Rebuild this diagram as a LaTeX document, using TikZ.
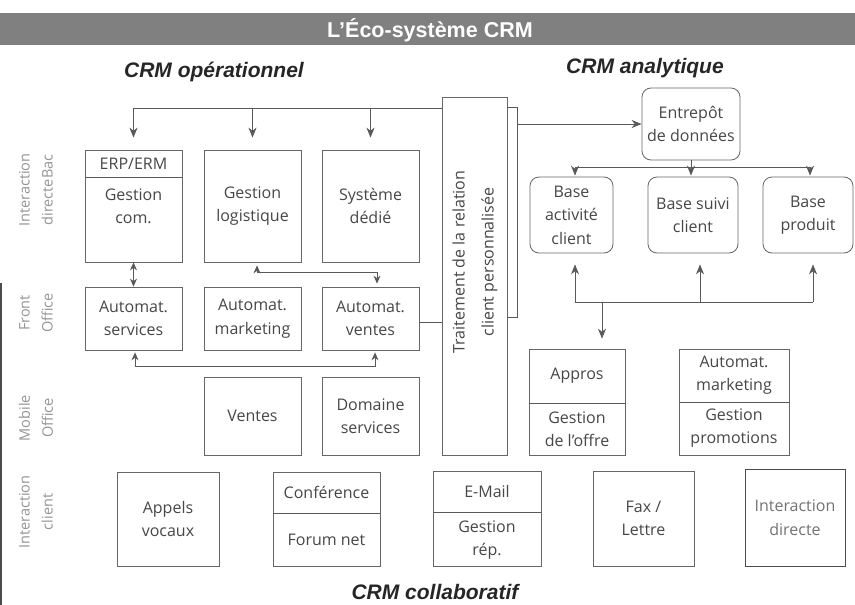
\documentclass[tikz,border=0pt]{standalone}
\usepackage{fontspec}
\setmainfont{Open Sans}
\newfontfamily\titlefont{Liberation Sans}
\usetikzlibrary{arrows.meta}
\begin{document}
\begin{tikzpicture}[x=1pt,y=-1pt,
  box/.style={draw=black!60, line width=0.8pt, inner sep=0pt},
  rbox/.style={box, rounded corners=9pt},
  txt/.style={text=black!72, font=\fontsize{16}{23.5}\selectfont, align=center, inner sep=1pt},
  lbl/.style={text=black!42, font=\fontsize{14.5}{23}\selectfont, align=center, rotate=90},
  ln/.style={draw=black!65, line width=0.8pt},
  arr/.style={ln, -{Stealth[length=10pt,width=8pt]}},
  arrb/.style={ln, {Stealth[length=8pt,width=7pt]}-{Stealth[length=8pt,width=7pt]}},
  sect/.style={font=\titlefont\bfseries\itshape\fontsize{21}{24}\selectfont, text=black!85}
]
\useasboundingbox (0,0) rectangle (855,605);
\fill[white] (0,0) rectangle (855,605);
% title band
\fill[black!50] (0,13) rectangle (855,45);
\node[font=\titlefont\bfseries\fontsize{21.5}{24}\selectfont, text=white] (title) at (430,30) {L’Éco-système CRM};
% section titles
\node[sect] (opr) at (214,72) {CRM opérationnel};
\node[sect] (ana) at (645,68) {CRM analytique};
\node[sect] (col) at (435,592) {CRM collaboratif};
% row labels
\node[lbl] (l1) at (36,190) {Interaction\\directeBac};
\node[lbl] (l2) at (36,313) {Front\\Office};
\node[lbl] (l3) at (36,418) {Mobile\\Office};
\node[lbl] (l4) at (36,512) {Interaction\\client};
% operational boxes
\node[box, minimum width=97pt, minimum height=112pt] (erp) at (133.5,206) {};
\draw[ln] (85,177) -- (182,177);
\node[txt] (erpT) at (133.5,163.5) {ERP/ERM};
\node[txt] (erpB) at (133.5,206) {Gestion\\com.};
\node[box, txt, minimum width=97pt, minimum height=112pt] (logi) at (252.5,206) {Gestion\\logistique};
\node[box, txt, minimum width=97pt, minimum height=112pt] (sysd) at (370.5,206) {Système\\dédié};
\node[box, minimum width=65pt, minimum height=358pt] (trait) at (474.5,276) {};
\node[txt, rotate=90, font=\fontsize{16}{29}\selectfont] (traitT) at (475,262) {Traitement de la relation\\client personnalisée};
\node[box, txt, minimum width=97pt, minimum height=63pt] (autserv) at (133.5,318.5) {Automat.\\services};
\node[box, txt, minimum width=97pt, minimum height=63pt] (autmkt) at (252.5,318.5) {Automat.\\marketing};
\node[box, txt, minimum width=97pt, minimum height=63pt] (autvent) at (370.5,318.5) {Automat.\\ventes};
\node[box, txt, minimum width=97pt, minimum height=78pt] (ventes) at (252.5,416) {Ventes};
\node[box, txt, minimum width=97pt, minimum height=78pt] (domaine) at (370.5,416) {Domaine\\services};
% mobile office analytics side
\node[box, minimum width=96pt, minimum height=106pt] (appros) at (577,402) {};
\draw[ln] (529,403) -- (625,403);
\node[txt] (approsT) at (577,376) {Appros};
\node[txt] (approsB) at (577,429) {Gestion\\de l’offre};
\node[box, minimum width=110pt, minimum height=106pt] (amkt) at (734,402) {};
\draw[ln] (679,402) -- (789,402);
\node[txt] (amktT) at (734,375) {Automat.\\marketing};
\node[txt] (amktB) at (734,428) {Gestion\\promotions};
% interaction client row
\node[box, txt, minimum width=102pt, minimum height=94pt] (appels) at (168,519) {Appels\\vocaux};
\node[box, minimum width=107pt, minimum height=94pt] (conf) at (326.5,519) {};
\draw[ln] (273,513) -- (380,513);
\node[txt] (confT) at (326.5,492) {Conférence};
\node[txt] (confB) at (326.5,540) {Forum net};
\node[box, minimum width=108pt, minimum height=95pt] (email) at (487,518.5) {};
\draw[ln] (433,512) -- (541,512);
\node[txt] (emailT) at (487,491) {E-Mail};
\node[txt] (emailB) at (487,540) {Gestion\\rép.};
\node[box, txt, minimum width=101pt, minimum height=95pt] (fax) at (643.5,518.5) {Fax /\\Lettre};
\node[box, txt, draw=black!70, text=black!55, minimum width=100pt, minimum height=97pt] (idir) at (795,517.5) {Interaction\\directe};
% analytical boxes
\node[rbox, txt, minimum width=98pt, minimum height=72pt] (entrepot) at (691,124) {Entrepôt\\de données};
\node[rbox, txt, minimum width=83pt, minimum height=76pt] (bact) at (571.5,215) {Base\\activité\\client};
\node[rbox, txt, minimum width=90pt, minimum height=76pt] (bsuiv) at (693,215) {Base suivi\\client};
\node[rbox, txt, minimum width=90pt, minimum height=76pt] (bprod) at (808,215) {Base\\produit};
% connectors: top distribution line
\coordinate (tl) at (132,108);
\draw[arr, shorten >=12pt] (trait.west |- tl) -| (erp.north);
\draw[arr, shorten >=12pt] (logi.north |- tl) -- (logi.north);
\draw[arr, shorten >=12pt] (sysd.north |- tl) -- (sysd.north);
\draw[arrb] (erp.south) -- (autserv.north);
\draw[arrb, shorten <=3pt, shorten >=3pt] ([xshift=4.5pt]logi.south) -- ++(0,10) -| ([xshift=6.5pt]autvent.north);
\draw[arrb, shorten <=2pt, shorten >=2pt] ([xshift=1.5pt]autserv.south) -- ++(0,16) -| ([xshift=4.5pt]autvent.south);
\draw[ln] ([yshift=-3.5pt]autvent.east) -- ([yshift=-3.5pt]autvent.east -| trait.west);
% bracket to data warehouse
\coordinate (bt) at (517,107);
\coordinate (bb) at (517,317);
\draw[ln] (trait.east |- bt) -- (bt) -- (bb) -- (trait.east |- bb);
\draw[arr] (bt |- entrepot.west) -- (entrepot.west);
% warehouse to bases
\coordinate (ej) at (691,167);
\draw[ln] (entrepot.south) -- (ej);
\draw[ln] ([xshift=3.5pt]bact.north |- ej) -- ([xshift=2pt]bprod.north |- ej);
\draw[arr, shorten >=1pt] ([xshift=3.5pt]bact.north |- ej) -- ([xshift=3.5pt]bact.north);
\draw[arr, shorten >=1pt] ([xshift=-2pt]bsuiv.north |- ej) -- ([xshift=-2pt]bsuiv.north);
\draw[arr, shorten >=1pt] ([xshift=2pt]bprod.north |- ej) -- ([xshift=2pt]bprod.north);
% bases to offer management
\coordinate (bj) at (602,302);
\draw[ln] ([xshift=3.5pt]bact.south |- bj) -- ([xshift=5pt]bprod.south |- bj);
\draw[arr, shorten >=11pt] ([xshift=3.5pt]bact.south |- bj) -- ([xshift=3.5pt]bact.south);
\draw[arr, shorten >=11pt] ([xshift=7pt]bsuiv.south |- bj) -- ([xshift=7pt]bsuiv.south);
\draw[arr, shorten >=11pt] ([xshift=5pt]bprod.south |- bj) -- ([xshift=5pt]bprod.south);
\draw[arr, shorten >=10pt] (bj) -- (bj |- appros.north);
% scan edge line
\draw[black!70, line width=1.2pt] (1,283) -- (1,605);
\end{tikzpicture}
\end{document}
